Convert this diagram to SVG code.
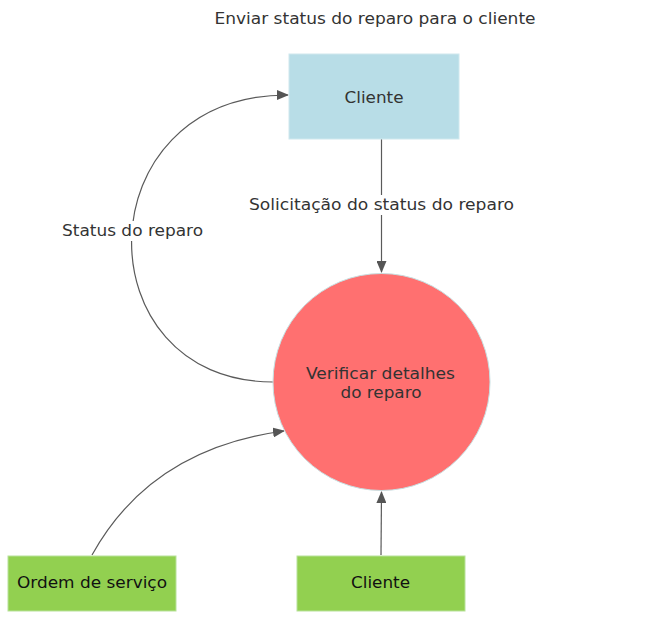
<svg xmlns="http://www.w3.org/2000/svg" width="663" height="627" viewBox="0 0 663 627">
<style>
text{font-family:"DejaVu Sans","Liberation Sans",sans-serif;font-size:16px;fill:#333;text-anchor:middle;}
.edge{fill:none;stroke:#5a5a5a;stroke-width:1.2;}
.lbl{fill:#fff;}
.dark{fill:#111;}
</style>
<defs>
<marker id="arr" markerWidth="12" markerHeight="10" refX="11" refY="5" orient="auto" markerUnits="userSpaceOnUse">
<path d="M0,0 L12,5 L0,10 Z" fill="#555"/>
</marker>
</defs>
<rect width="663" height="627" fill="#fff"/>
<text x="375" y="24" textLength="321" lengthAdjust="spacingAndGlyphs">Enviar status do reparo para o cliente</text>
<g id="connectors">
<path class="edge" d="M381.5,139 L381.5,272" marker-end="url(#arr)"/>
<path class="edge" d="M273,382 C82,382 82,95 288,95" marker-end="url(#arr)"/>
<path class="edge" d="M92,555 C128,490 188,444 284,431" marker-end="url(#arr)"/>
<path class="edge" d="M381,555 L381.5,492" marker-end="url(#arr)"/>
<rect class="lbl" x="248" y="195" width="268" height="20"/>
<text x="381.5" y="210" textLength="265" lengthAdjust="spacingAndGlyphs">Solicitação do status do reparo</text>
<rect class="lbl" x="61" y="221" width="143" height="20"/>
<text x="132.5" y="236" textLength="141" lengthAdjust="spacingAndGlyphs">Status do reparo</text>
</g>
<g id="node-cliente-top">
<rect x="289" y="54" width="170" height="85" fill="#b8dde7" stroke="#cfe8ee" stroke-width="1"/>
<text x="374" y="103" textLength="59" lengthAdjust="spacingAndGlyphs">Cliente</text>
</g>
<g id="node-verificar">
<circle cx="381.5" cy="382" r="108.5" fill="#ff7070" stroke="#c6e0e2" stroke-width="1"/>
<text x="380.5" y="379" textLength="149" lengthAdjust="spacingAndGlyphs">Verificar detalhes</text>
<text x="381" y="398" textLength="81" lengthAdjust="spacingAndGlyphs">do reparo</text>
</g>
<g id="node-ordem">
<rect x="8" y="556" width="168" height="55" fill="#92d050" stroke="#b8e29a" stroke-width="1"/>
<text class="dark" x="92" y="588" textLength="150" lengthAdjust="spacingAndGlyphs">Ordem de serviço</text>
</g>
<g id="node-cliente-bottom">
<rect x="297" y="556" width="168" height="55" fill="#92d050" stroke="#b8e29a" stroke-width="1"/>
<text class="dark" x="380.5" y="588" textLength="59" lengthAdjust="spacingAndGlyphs">Cliente</text>
</g>
</svg>
